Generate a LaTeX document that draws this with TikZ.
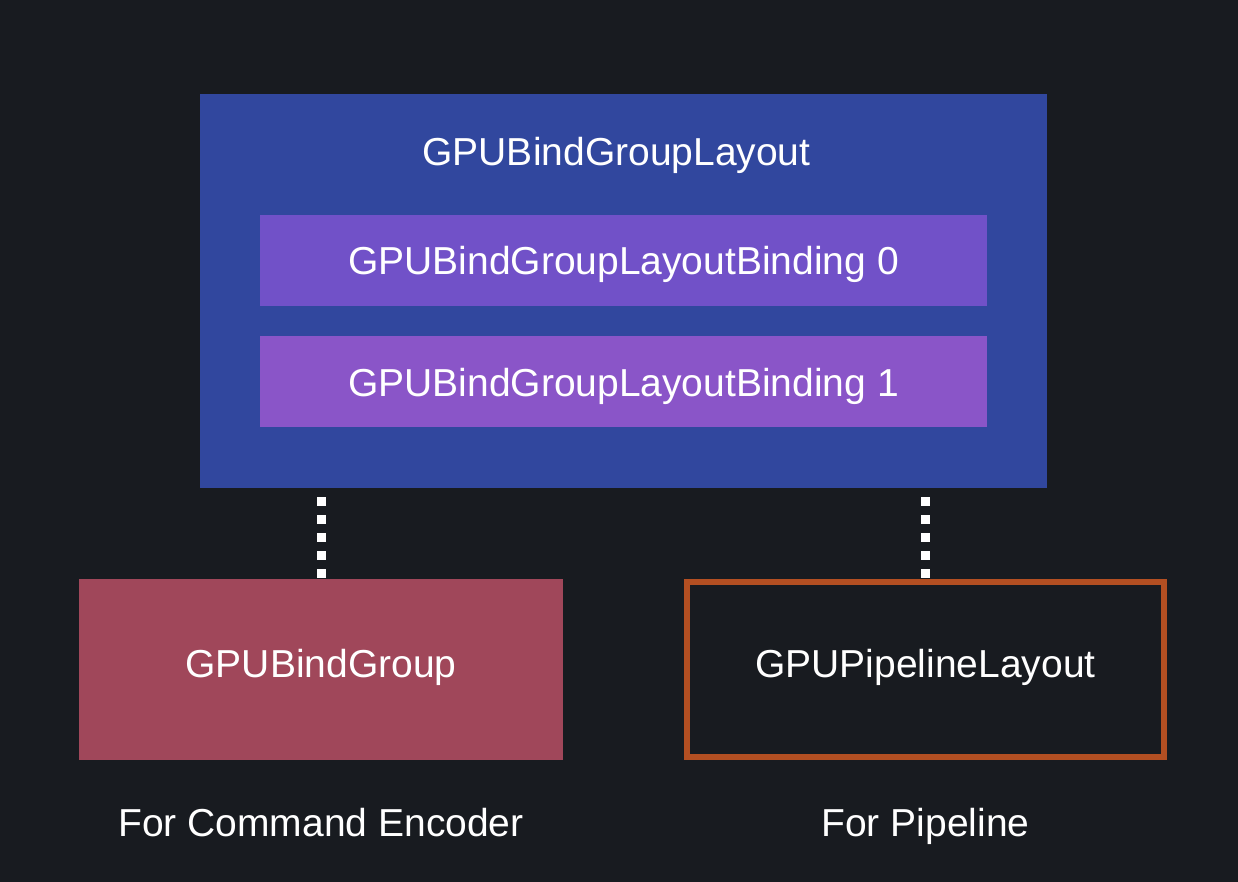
\documentclass[tikz,border=0pt]{standalone}
\usepackage{fontspec}
\setmainfont{Liberation Sans}
\definecolor{bgc}{HTML}{181B20}
\definecolor{outerc}{HTML}{31479E}
\definecolor{bindA}{HTML}{7151C8}
\definecolor{bindB}{HTML}{8A55C8}
\definecolor{groupc}{HTML}{A0475A}
\definecolor{pipec}{HTML}{B34F22}
\begin{document}
\begin{tikzpicture}[x=1pt,y=-1pt,
  lbl/.style={text=white,font=\fontsize{39}{44}\selectfont,inner sep=0pt,anchor=base},
  boxc/.style={inner sep=0pt,outer sep=0pt,anchor=north west},
  dots/.style={white,line width=9pt,dash pattern=on 9pt off 9pt,dash phase=9pt}]
\fill[bgc] (0,0) rectangle (1238,882);
\useasboundingbox (0,0) rectangle (1238,882);
\node[boxc,fill=outerc,minimum width=847pt,minimum height=394pt] (outer) at (200,94) {};
\node[lbl] (title) at (616.5,166) {GPUBindGroupLayout};
\node[boxc,fill=bindA,minimum width=727pt,minimum height=91pt] (b0) at (260,215) {};
\node[lbl] at (b0.center |- 0,275) {GPUBindGroupLayoutBinding 0};
\node[boxc,fill=bindB,minimum width=727pt,minimum height=91pt] (b1) at (260,336) {};
\node[lbl] at (b1.center |- 0,396) {GPUBindGroupLayoutBinding 1};
\node[boxc,fill=groupc,minimum width=484pt,minimum height=181pt] (bg) at (79,579) {};
\node[lbl] at (bg.center |- 0,677) {GPUBindGroup};
\node[draw=pipec,line width=6pt,inner sep=0pt,outer sep=0pt,minimum width=477pt,minimum height=175pt,anchor=north west] (pl) at (687,582) {};
\node[lbl] at (pl.center |- 0,677) {GPUPipelineLayout};
\draw[dots] (bg.north |- outer.south) -- (bg.north);
\draw[dots] (pl.north |- outer.south) -- ([yshift=-3pt]pl.north);
\node[lbl] (c1) at (321,836) {For Command Encoder};
\node[lbl] (c2) at (925.5,836) {For Pipeline};
\end{tikzpicture}
\end{document}
